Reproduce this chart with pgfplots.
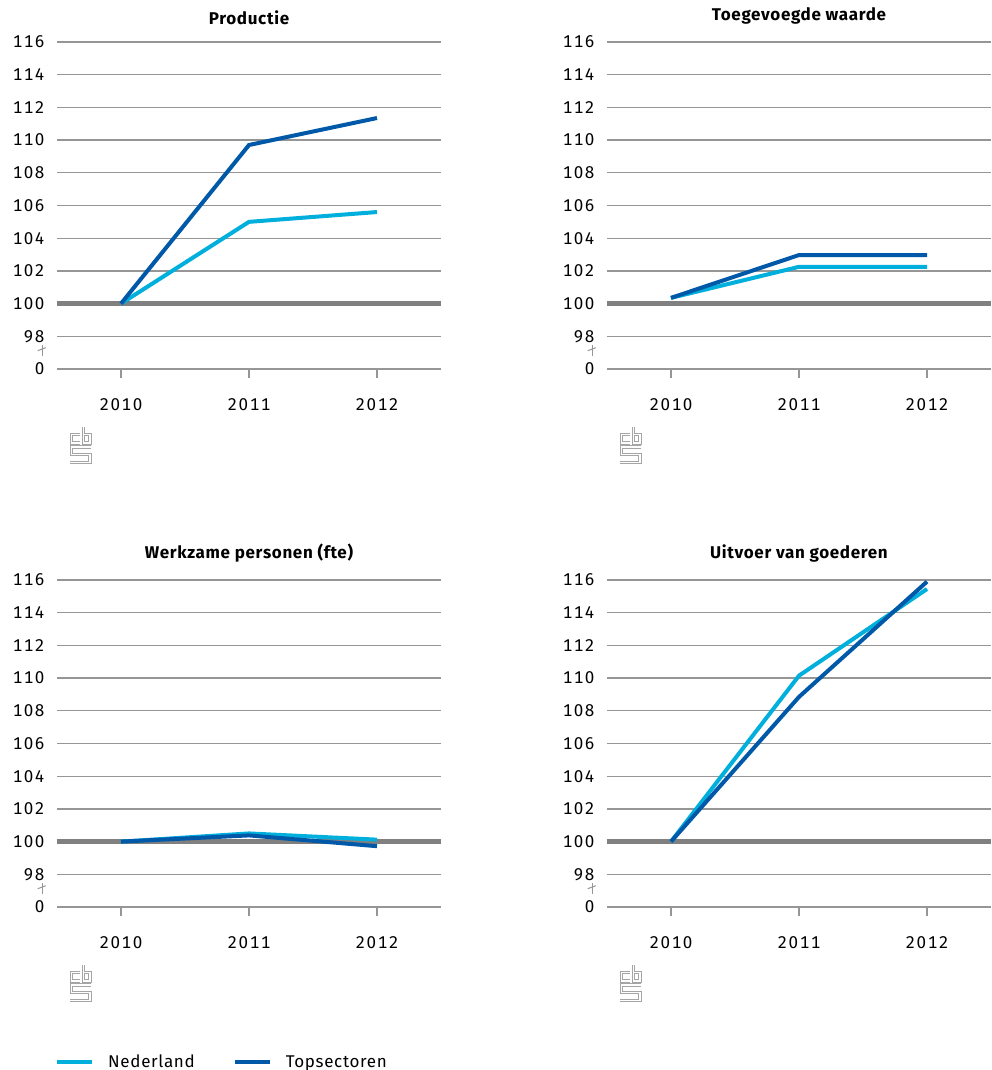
\documentclass[border=0pt]{standalone}
\usepackage{fontspec}
\setmainfont{Fira Sans}[LetterSpace=4]
\newfontfamily\tickfont{Fira Sans}[LetterSpace=9, Numbers=Monospaced]
\usepackage{pgfplots}
\pgfplotsset{compat=1.18}
\definecolor{nl}{RGB}{0,175,220}
\definecolor{tops}{RGB}{0,88,168}
\definecolor{gridg}{RGB}{150,150,150}
\definecolor{hundred}{RGB}{128,128,128}
\definecolor{logog}{RGB}{165,165,165}

\pgfplotsset{panel/.style={
 scale only axis, width=384pt, height=327pt,
 xmin=2009.5, xmax=2012.5, ymin=96, ymax=116,
 axis x line=bottom, axis y line=left,
 x axis line style={draw=gridg, line width=1.3pt, -},
 y axis line style={draw=none, -},
 xtick={2010,2011,2012}, xticklabels={2010,2011,2012},
 ytick={96,98,...,116}, yticklabels={0,98,100,102,104,106,108,110,112,114,116},
 ymajorgrids, grid style={draw=gridg, line width=1.3pt},
 major tick length=9pt, tick align=outside,
 xtick style={draw=gridg, line width=1.3pt},
 ytick style={draw=none},
 tick label style={font=\tickfont\fontsize{17}{20}\selectfont},
 xticklabel style={yshift=-17pt},
 /pgf/number format/assume math mode=true,
 title style={font=\fontsize{17}{20}\selectfont\bfseries, yshift=8pt},
 clip=false,
}}

\newcommand\decor[2]{%
 \begin{scope}[shift={(#1pt,-#2pt)}, x=1pt, y=1pt]
  \draw[gridg, line width=1pt] (-14.7,13) -- (-14.7,24);
  \draw[gridg, line width=1pt] (-19.3,18.3) -- (-11.3,21.3);
  \begin{scope}[shift={(13,-58)}, yscale=-1, line join=miter,
     logo/.style={draw=logog, line width=0.8pt, double=white, double distance=1.6pt}]
   \draw[logo] (10,7.5) -- (1.5,7.5) -- (1.5,16) -- (10,16);
   \draw[logo] (13.5,0) -- (13.5,16) -- (20,16) -- (20,7.5) -- (13.5,7.5);
   \draw[logo] (21,20) -- (1.5,20) -- (1.5,27.5) -- (20,27.5) -- (20,35.5) -- (0,35.5);
  \end{scope}
 \end{scope}}

\begin{document}
\begin{tikzpicture}
\useasboundingbox (0,0) rectangle (991pt,-1070pt);

\begin{axis}[panel, at={(57pt,-369pt)}, anchor=south west, title={Productie}]
\addplot[hundred, line width=4.5pt, forget plot] coordinates {(2009.5,100) (2012.5,100)};
\addplot[nl, line width=4pt] coordinates {(2010,100) (2011,105.0) (2012,105.6)};
\addplot[tops, line width=4pt] coordinates {(2010,100) (2011,109.7) (2012,111.35)};
\end{axis}

\begin{axis}[panel, at={(607pt,-369pt)}, anchor=south west, title={Toegevoegde waarde}]
\addplot[hundred, line width=4.5pt, forget plot] coordinates {(2009.5,100) (2012.5,100)};
\addplot[nl, line width=4pt] coordinates {(2010,100.35) (2011,102.25) (2012,102.25)};
\addplot[tops, line width=4pt] coordinates {(2010,100.35) (2011,102.97) (2012,102.97)};
\end{axis}

\begin{axis}[panel, at={(57pt,-907pt)}, anchor=south west, title={Werkzame personen (fte)},
  legend style={at={(0,-0.474)}, anchor=west, xshift=-5pt, draw=none, fill=none, legend columns=2,
    font=\fontsize{17}{20}\selectfont,
    /tikz/every odd column/.append style={column sep=12pt},
    /tikz/every even column/.append style={column sep=36pt}},
  legend image code/.code={\draw[#1] (0pt,0pt) -- (35pt,0pt);}]
\addplot[hundred, line width=4.5pt, forget plot] coordinates {(2009.5,100) (2012.5,100)};
\addplot[nl, line width=4pt] coordinates {(2010,100) (2011,100.5) (2012,100.12)};
\addlegendentry{Nederland}
\addplot[tops, line width=4pt] coordinates {(2010,100) (2011,100.38) (2012,99.72)};
\addlegendentry{Topsectoren}
\end{axis}

\begin{axis}[panel, at={(607pt,-907pt)}, anchor=south west, title={Uitvoer van goederen}]
\addplot[hundred, line width=4.5pt, forget plot] coordinates {(2009.5,100) (2012.5,100)};
\addplot[nl, line width=4pt] coordinates {(2010,100) (2011,110.15) (2012,115.45)};
\addplot[tops, line width=4pt] coordinates {(2010,100) (2011,108.85) (2012,115.9)};
\end{axis}

\decor{57}{369}
\decor{607}{369}
\decor{57}{907}
\decor{607}{907}
\end{tikzpicture}
\end{document}
